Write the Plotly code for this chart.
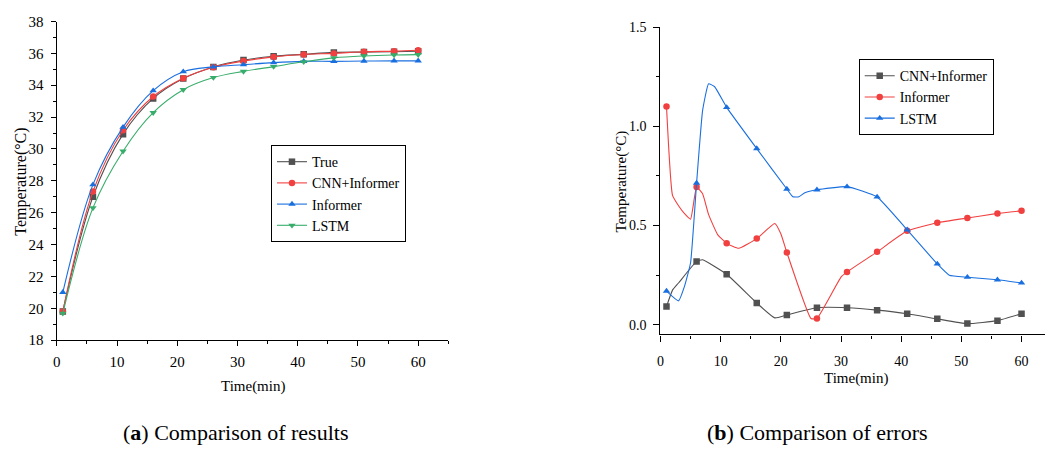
import plotly.graph_objects as go

# ---------------- data: (a) comparison of results ----------------
minutes = [1, 6, 11, 16, 21, 26, 31, 36, 41, 46, 51, 56, 60]
true_temp = [19.8, 27.0, 30.93, 33.17, 34.42, 35.15, 35.58, 35.82, 35.94, 36.06, 36.08, 36.1, 36.13]
cnn_informer_temp = [19.8, 27.33, 31.17, 33.29, 34.44, 35.13, 35.52, 35.78, 35.93, 36.0, 36.1, 36.14, 36.2]
informer_temp = [21.0, 27.76, 31.37, 33.66, 34.85, 35.15, 35.29, 35.42, 35.5, 35.5, 35.52, 35.53, 35.53]
lstm_temp = [19.68, 26.3, 29.86, 32.28, 33.72, 34.48, 34.87, 35.17, 35.47, 35.72, 35.84, 35.9, 35.92]

# ---------------- data: (b) comparison of errors ----------------
err_cnn_x = [1, 2, 3, 6, 7, 11, 16, 19, 21, 26, 31, 36, 41, 46, 51, 56, 60]
err_cnn_y = [0.091, 0.174, 0.21, 0.319, 0.327, 0.254, 0.109, 0.034, 0.049, 0.085, 0.085, 0.073, 0.055, 0.029, 0.005, 0.02, 0.055]
err_inf_x = [1, 2, 3, 4, 5, 6, 7, 8, 9.5, 11, 13, 16, 19, 20, 21, 25, 26, 30, 31, 36, 41, 46, 51, 56, 60]
err_inf_y = [1.101, 0.652, 0.60, 0.56, 0.532, 0.694, 0.66, 0.555, 0.454, 0.41, 0.385, 0.434, 0.51, 0.458, 0.364, 0.031, 0.031, 0.24, 0.266, 0.367, 0.473, 0.514, 0.538, 0.561, 0.574]
err_lstm_x = [1, 3, 4, 5, 6, 7, 8, 9, 11, 16, 21, 22, 23, 24, 26, 31, 36, 41, 46, 48, 51, 56, 60]
err_lstm_y = [0.169, 0.12, 0.194, 0.312, 0.714, 1.08, 1.215, 1.20, 1.096, 0.888, 0.684, 0.645, 0.645, 0.665, 0.68, 0.696, 0.644, 0.478, 0.306, 0.249, 0.239, 0.226, 0.21]

GRAY, RED, BLUE, GREEN = "#515151", "#F14040", "#1A6FDF", "#37AD6B"
FONT = "Liberation Serif, Times New Roman, serif"
W, H = 1045, 463

fig = go.Figure()

# ---- left panel ----
left_series = [
    ("True", true_temp, GRAY, "square"),
    ("CNN+Informer", cnn_informer_temp, RED, "circle"),
    ("Informer", informer_temp, BLUE, "triangle-up"),
    ("LSTM", lstm_temp, GREEN, "triangle-down"),
]
for name, ys, col, sym in left_series:
    fig.add_trace(go.Scatter(
        x=minutes, y=ys, mode="lines+markers", xaxis="x", yaxis="y",
        line=dict(color=col, width=1.1, shape="spline", smoothing=1.0),
        marker=dict(symbol=sym, size=6.5, color=col),
        name=name, legend="legend", showlegend=True))

# ---- right panel ----
right_series = [
    ("CNN+Informer", err_cnn_x, err_cnn_y, GRAY, "square"),
    ("Informer", err_inf_x, err_inf_y, RED, "circle"),
    ("LSTM", err_lstm_x, err_lstm_y, BLUE, "triangle-up"),
]
mark_set = set(minutes)
for name, xs, ys, col, sym in right_series:
    fig.add_trace(go.Scatter(
        x=xs, y=ys, mode="lines", xaxis="x2", yaxis="y2",
        line=dict(color=col, width=1.1, shape="spline", smoothing=0.4),
        showlegend=False, hoverinfo="skip"))
    mx = [x for x in xs if x in mark_set]
    my = [y for x, y in zip(xs, ys) if x in mark_set]
    fig.add_trace(go.Scatter(
        x=mx, y=my, mode="markers", xaxis="x2", yaxis="y2",
        marker=dict(symbol=sym, size=6.5, color=col), showlegend=False))
    fig.add_trace(go.Scatter(
        x=[None], y=[None], mode="lines+markers", xaxis="x2", yaxis="y2",
        line=dict(color=col, width=1.1), marker=dict(symbol=sym, size=6.5, color=col),
        name=name, legend="legend2", showlegend=True))

axis_common = dict(
    showline=True, linecolor="black", linewidth=1.4, ticks="outside",
    tickcolor="black", tickwidth=1.4, showgrid=False, zeroline=False,
    mirror=False,
)
minor_common = dict(ticks="outside", tickcolor="black", tickwidth=1.4, ticklen=3)

fig.update_layout(
    width=W, height=H, margin=dict(l=0, r=0, t=0, b=0),
    paper_bgcolor="white", plot_bgcolor="white",
    font=dict(family=FONT, color="black"),
    xaxis=dict(domain=[53 / W, 446 / W], range=[0, 65], tick0=0, dtick=10, ticklen=5,
               minor=dict(dtick=5, tick0=0, **minor_common),
               tickfont=dict(family=FONT, size=15, color="black"),
               anchor="y", ticklabelstandoff=3, **axis_common),
    yaxis=dict(domain=[(H - 344) / H, (H - 14) / H], range=[18, 38], tick0=18, dtick=2, ticklen=5,
               minor=dict(dtick=1, tick0=18, **minor_common),
               tickfont=dict(family=FONT, size=15, color="black"),
               anchor="x", ticklabelstandoff=4, **axis_common),
    xaxis2=dict(domain=[659 / W, 1.0], range=[0, 63.9], tick0=0, dtick=10, ticklen=6,
                minor=dict(dtick=5, tick0=0, **minor_common),
                tickfont=dict(family=FONT, size=14, color="black"),
                anchor="y2", ticklabelstandoff=8, **axis_common),
    yaxis2=dict(domain=[(H - 338) / H, (H - 20) / H], range=[-0.049, 1.5],
                tickvals=[0, 0.5, 1.0, 1.5], ticktext=["0.0", "0.5", "1.0", "1.5"], ticklen=6,
                minor=dict(dtick=0.25, tick0=0, **minor_common),
                tickfont=dict(family=FONT, size=14, color="black"),
                anchor="x2", ticklabelstandoff=4, **axis_common),
    legend=dict(x=268 / W, y=1 - 142 / H, xanchor="left", yanchor="top",
                bordercolor="black", borderwidth=1, bgcolor="white",
                font=dict(family=FONT, size=14, color="black"), tracegroupgap=0),
    legend2=dict(x=858 / W, y=1 - 53 / H, xanchor="left", yanchor="top",
                 bordercolor="black", borderwidth=1, bgcolor="white",
                 font=dict(family=FONT, size=14, color="black"), tracegroupgap=0),
)

ann = [
    dict(text="Temperature(°C)", x=17 / W, y=1 - 180 / H, textangle=-90, size=16),
    dict(text="Time(min)", x=250 / W, y=1 - 392 / H, textangle=0, size=15),
    dict(text="Temperature(°C)", x=620 / W, y=1 - 180 / H, textangle=-90, size=15),
    dict(text="Time(min)", x=855 / W, y=1 - 384 / H, textangle=0, size=15),
    dict(text="(<b>a</b>) Comparison of results", x=232 / W, y=1 - 440 / H, textangle=0, size=22),
    dict(text="(<b>b</b>) Comparison of errors", x=817 / W, y=1 - 440 / H, textangle=0, size=22),
]
for a in ann:
    fig.add_annotation(text=a["text"], x=a["x"], y=a["y"], xref="paper", yref="paper",
                       xanchor="center", yanchor="middle", showarrow=False,
                       textangle=a["textangle"], font=dict(family=FONT, size=a["size"], color="black"))

fig.write_html("out.html")
